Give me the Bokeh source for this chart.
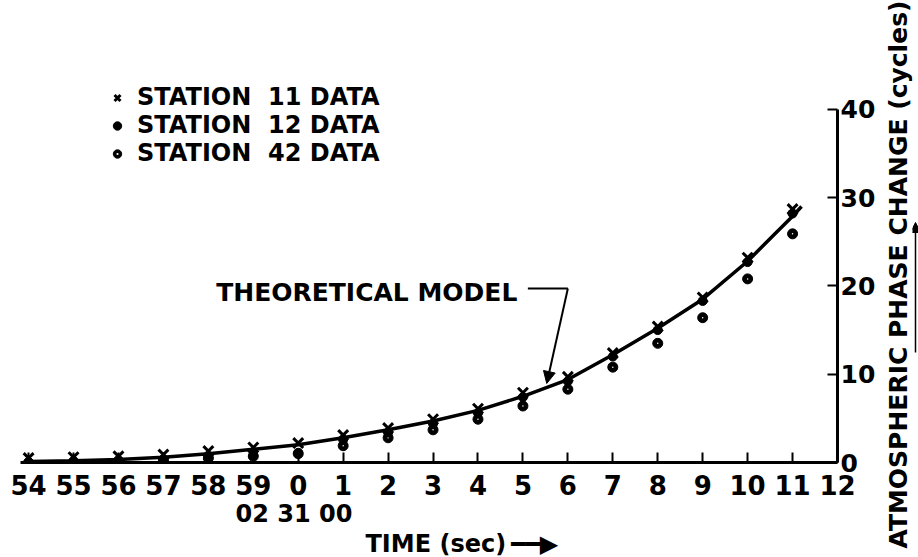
from bokeh.plotting import figure
from bokeh.layouts import row
from bokeh.models import (FixedTicker, Range1d, Label, Legend, LegendItem,
                          Arrow, NormalHead, Title)
from bokeh.embed import file_html
from bokeh.resources import INLINE

# ---- data -------------------------------------------------------------
# time in seconds relative to 02 31 00 (54..59 are the preceding minute)
tick_values = list(range(-6, 13))
tick_labels = ["54", "55", "56", "57", "58", "59", "0", "1", "2", "3", "4",
               "5", "6", "7", "8", "9", "10", "11", "12"]
y_ticks = [0, 10, 20, 30, 40]

time_s = list(range(-6, 12))
station11 = [0.5, 0.6, 0.7, 0.9, 1.3, 1.7, 2.2, 3.1, 3.9, 4.9, 6.1, 7.9,
             9.7, 12.4, 15.4, 18.7, 23.2, 28.7]
station12 = [0.0, 0.05, 0.1, 0.3, 0.5, 0.8, 1.1, 2.6, 3.4, 4.4, 5.6, 7.4,
             9.2, 12.0, 15.0, 18.3, 22.7, 28.2]
station42 = [0.0, 0.1, 0.2, 0.3, 0.5, 0.7, 1.0, 1.9, 2.8, 3.7, 4.9, 6.4,
             8.3, 10.8, 13.5, 16.4, 20.8, 25.9]

model_t = [-6, -5, -4, -3, -2, -1, 0, 1, 2, 3, 4, 5, 6, 7, 8, 9, 10, 11, 11.2]
model_phase = [0.1, 0.2, 0.35, 0.6, 1.0, 1.5, 2.0, 2.8, 3.7, 4.7, 5.9, 7.5,
               9.4, 12.2, 15.2, 18.5, 22.8, 27.9, 29.0]

FONT = "DejaVu Sans"

p = figure(width=878, height=557, x_range=Range1d(-6.18, 12),
           y_range=Range1d(0, 51.2), output_backend="svg",
           toolbar_location=None, y_axis_location="right",
           min_border_left=20, min_border_right=40, min_border_top=10,
           min_border_bottom=95)
p.outline_line_color = None
p.xgrid.visible = False
p.ygrid.visible = False
p.background_fill_color = "white"
p.border_fill_color = "white"

# x axis
xa = p.xaxis[0]
xa.ticker = FixedTicker(ticks=tick_values)
xa.major_label_overrides = {v: l for v, l in zip(tick_values, tick_labels)}
xa.axis_line_width = 3
xa.axis_line_color = "black"
xa.major_tick_in = 10
xa.major_tick_out = 0
xa.major_tick_line_width = 2
xa.minor_tick_line_color = None
xa.major_label_text_font = FONT
xa.major_label_text_font_style = "bold"
xa.major_label_text_font_size = "26px"
xa.major_label_text_color = "black"
xa.major_label_standoff = 12

# y axis (right)
ya = p.yaxis[0]
ya.ticker = FixedTicker(ticks=y_ticks)
ya.bounds = (0, 40)
ya.axis_line_width = 3
ya.axis_line_color = "black"
ya.major_tick_in = 10
ya.major_tick_out = 0
ya.major_tick_line_width = 2
ya.minor_tick_line_color = None
ya.major_label_text_font = FONT
ya.major_label_text_font_style = "bold"
ya.major_label_text_font_size = "25px"
ya.major_label_text_color = "black"
ya.major_label_standoff = 3

# bottom texts
t_date = Title(text="02 31 00", align="left", offset=215, standoff=0,
               text_font=FONT, text_font_style="bold",
               text_font_size="24px", text_color="black")
t_time = Title(text="TIME (sec)\u2009\u2501\u2501\u25B6", align="left",
               offset=345, standoff=0, text_font=FONT,
               text_font_style="bold", text_font_size="24px",
               text_color="black")
p.add_layout(t_date, "below")
p.add_layout(t_time, "below")

# ---- marks ------------------------------------------------------------
p.line(model_t, model_phase, line_color="black", line_width=3.5)

r42a = p.scatter(time_s, station42, marker="circle", size=10,
                 fill_color="black", line_color="black")
r42b = p.scatter(time_s, station42, marker="dot", size=6,
                 line_color="white")
r12 = p.scatter(time_s, station12, marker="circle", size=9,
                fill_color="black", line_color="black")
r11 = p.scatter(time_s, station11, marker="x", size=14,
                line_color="black", line_width=3)

legend = Legend(items=[
    LegendItem(label="STATION  11 DATA", renderers=[r11]),
    LegendItem(label="STATION  12 DATA", renderers=[r12]),
    LegendItem(label="STATION  42 DATA", renderers=[r42a, r42b]),
], location=(86, 295))
legend.background_fill_alpha = 0
legend.border_line_color = None
legend.label_text_font = FONT
legend.label_text_font_style = "bold"
legend.label_text_font_size = "24px"
legend.label_text_color = "black"
legend.label_height = 21
legend.glyph_height = 21
legend.glyph_width = 22
legend.spacing = 0
legend.padding = 0
legend.margin = 0
legend.label_standoff = 9
p.add_layout(legend)

# ---- annotations ------------------------------------------------------
p.add_layout(Label(x=5.07, y=19.26, text="THEORETICAL  MODEL",
                   text_align="right", text_baseline="middle",
                   text_font_size="25px", text_font=FONT,
                   text_font_style="bold", text_color="black"))
p.add_layout(Arrow(x_start=5.11, y_start=19.71, x_end=6.0, y_end=19.71,
                   start=None, end=None, line_width=2, line_color="black"))
p.add_layout(Arrow(x_start=6.0, y_start=19.71, x_end=5.53, y_end=8.95,
                   start=None,
                   end=NormalHead(size=12, fill_color="black",
                                  line_color="black"),
                   line_width=2, line_color="black"))

# ---- right-hand title strip ---------------------------------------------
side = figure(width=40, height=557, x_range=Range1d(912, 918),
              y_range=Range1d(95, 547), output_backend="svg",
              toolbar_location=None, x_axis_type=None, y_axis_type=None,
              min_border_left=34, min_border_right=0, min_border_top=10,
              min_border_bottom=95, title=None)
side.outline_line_color = None
side.background_fill_color = "white"
side.border_fill_color = "white"
side.add_layout(Title(text="ATMOSPHERIC  PHASE  CHANGE (cycles)",
                      align="left", offset=-86, standoff=0,
                      text_font=FONT, text_font_style="bold",
                      text_font_size="25px", text_color="black"), "left")
side.add_layout(Arrow(x_start=915, y_start=205, x_end=915, y_end=335,
                      start=None,
                      end=NormalHead(size=10, fill_color="black",
                                     line_color="black"),
                      line_width=1.5, line_color="black"))

layout = row(p, side, spacing=0)
open("out.html", "w").write(file_html(layout, INLINE))
